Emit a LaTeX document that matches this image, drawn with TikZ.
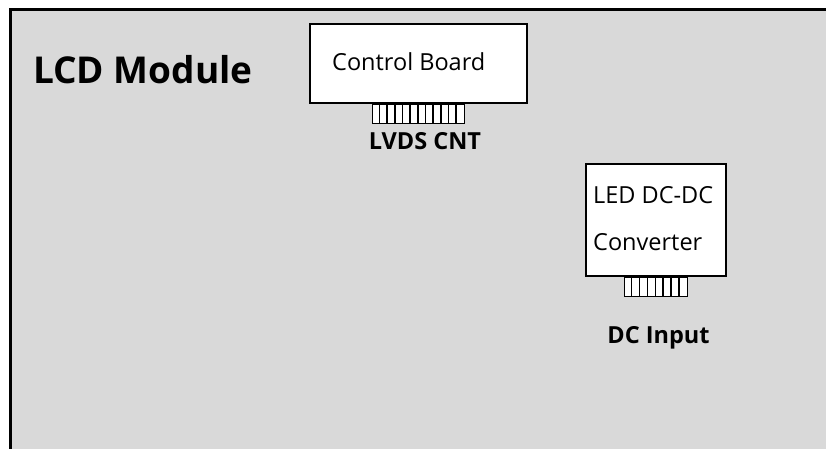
\documentclass[tikz,border=0pt]{standalone}
\usepackage{fontspec}
\setmainfont{Open Sans}
\usetikzlibrary{positioning}

\begin{document}
\begin{tikzpicture}[x=1pt,y=-1pt,
  board/.style={draw=black,line width=1.6pt,fill=white,inner sep=0pt},
  plug/.style={draw=black,line width=1.4pt,fill=white,inner sep=0pt},
  label/.style={inner sep=0pt,font=\fontsize{23.5}{27}\selectfont},
  tag/.style={inner sep=0pt,font=\fontsize{23.5}{27}\selectfont\bfseries}]
\useasboundingbox (0,0) rectangle (826,448);
% Module frame runs past the page edge
\begin{scope}
\clip (0,0) rectangle (826,448);
\fill[white] (0,0) rectangle (826,448);
\draw[line width=3pt,fill=black!15] (10.5,9.5) rectangle (860,480);
\end{scope}
\node[inner sep=0pt,anchor=base west,font=\fontsize{37}{42}\selectfont\bfseries] (title) at (33,83) {LCD Module};
% Control board and its LVDS connector
\node[board,minimum width=217pt,minimum height=79pt] (ctrl) at (418.5,63.5) {};
\node[label,anchor=base west] (ctrltext) at (332,70) {Control Board};
\node[plug,minimum width=92pt,minimum height=19pt,below=0pt of ctrl.south] (lvds) {};
\foreach \i in {1,...,11}
  \draw[line width=1.4pt] ([xshift=\i*92/12 pt]lvds.north west) -- ([xshift=\i*92/12 pt]lvds.south west);
\node[tag,anchor=base] (lvdstext) at (425,149) {LVDS CNT};
% LED converter and DC input connector
\node[board,minimum width=140pt,minimum height=112pt] (led) at (656,220) {};
\node[label,anchor=base west] (ledtop) at (593,203) {LED DC-DC};
\node[label,anchor=base west] (ledbot) at (593,250) {Converter};
\node[plug,minimum width=63pt,minimum height=19pt,below=0pt of led.south] (dcin) {};
\foreach \i in {1,...,7}
  \draw[line width=1.4pt] ([xshift=\i*63/8 pt]dcin.north west) -- ([xshift=\i*63/8 pt]dcin.south west);
\node[tag,anchor=base] (dctext) at (658.5,343) {DC Input};
\end{tikzpicture}
\end{document}
